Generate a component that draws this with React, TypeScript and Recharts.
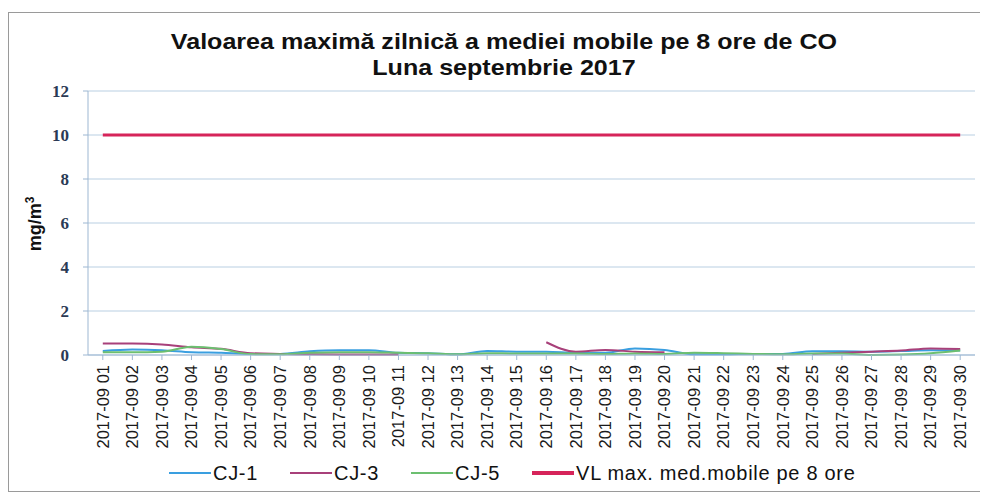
import React from 'react'
import { LineChart, Line, XAxis, YAxis, CartesianGrid } from 'recharts'

// zilele lunii septembrie 2017
const days = [
  '2017-09 01', '2017-09 02', '2017-09 03', '2017-09 04', '2017-09 05',
  '2017-09 06', '2017-09 07', '2017-09 08', '2017-09 09', '2017-09 10',
  '2017-09 11', '2017-09 12', '2017-09 13', '2017-09 14', '2017-09 15',
  '2017-09 16', '2017-09 17', '2017-09 18', '2017-09 19', '2017-09 20',
  '2017-09 21', '2017-09 22', '2017-09 23', '2017-09 24', '2017-09 25',
  '2017-09 26', '2017-09 27', '2017-09 28', '2017-09 29', '2017-09 30',
]

const cj1 = [0.18, 0.25, 0.22, 0.13, 0.1, 0.05, 0.05, 0.17, 0.22, 0.22, 0.1, 0.08, 0.03, 0.18, 0.15, 0.15, 0.1, 0.1, 0.3, 0.23, 0.03, 0.03, 0.05, 0.05, 0.17, 0.17, 0.15, 0.18, 0.22, 0.2]
const cj3 = [0.52, 0.52, 0.48, 0.35, 0.28, 0.08, 0.05, 0.03, 0.02, 0.02, 0.02, null, null, null, null, 0.58, 0.15, 0.23, 0.15, 0.12, null, null, null, null, 0.05, 0.1, 0.15, 0.2, 0.3, 0.27]
const cj5 = [0.12, 0.12, 0.15, 0.38, 0.27, 0.04, 0.03, 0.1, 0.12, 0.12, 0.1, 0.08, 0.03, 0.08, 0.07, 0.07, 0.07, 0.05, 0.07, 0.05, 0.1, 0.08, 0.05, 0.03, 0.07, 0.07, 0, 0.02, 0.08, 0.2]
const vl = [10, 10, 10, 10, 10, 10, 10, 10, 10, 10, 10, 10, 10, 10, 10, 10, 10, 10, 10, 10, 10, 10, 10, 10, 10, 10, 10, 10, 10, 10]

const yTicks = [0, 2, 4, 6, 8, 10, 12]

const series = [
  { key: 'cj1', name: 'CJ-1', color: '#3a9fe0', width: 2 },
  { key: 'cj3', name: 'CJ-3', color: '#a8407a', width: 2 },
  { key: 'cj5', name: 'CJ-5', color: '#6cbf70', width: 2 },
  { key: 'vl', name: 'VL max. med.mobile pe 8 ore', color: '#d6245a', width: 3 },
]

const data = days.map((d, i) => ({ day: d, cj1: cj1[i], cj3: cj3[i], cj5: cj5[i], vl: vl[i] }))

const XTick = (props: any) => {
  const { x, y, payload } = props
  return (
    <text
      x={x}
      y={y}
      transform={`rotate(-90, ${x}, ${y})`}
      textAnchor="end"
      dy="0.35em"
      fill="#1a1a1a"
      fontSize={16.5}
      fontFamily="Liberation Sans, Arial"
    >
      {payload.value}
    </text>
  )
}

const YLabel = () => (
  <text
    x={27}
    y={216}
    transform="rotate(-90, 27, 216)"
    textAnchor="middle"
    dy="0.35em"
    fill="#111"
    fontSize={18}
    fontWeight="bold"
    fontFamily="Liberation Sans, Arial"
  >
    mg/m<tspan dy={-7} fontSize={12}>3</tspan>
  </text>
)

export default function App() {
  return (
    <div style={{ position: 'relative', width: 980, height: 484, fontFamily: 'Liberation Sans, Arial' }}>
      <div style={{ position: 'absolute', left: 0, top: 4, width: 990, height: 478, border: '1px solid #9a9a9a' }} />
      <div
        style={{
          position: 'absolute', left: 0, top: 21, width: 992, textAlign: 'center',
          fontSize: 22, fontWeight: 'bold', lineHeight: '26px', color: '#111',
          transform: 'scaleX(1.14)', transformOrigin: '496px 0',
        }}
      >
        <div>Valoarea maximă zilnică a mediei mobile pe 8 ore de CO</div>
        <div>Luna septembrie 2017</div>
      </div>

      <LineChart width={980} height={484} data={data} margin={{ top: 83, right: 13, bottom: 0, left: 20 }}>
        <CartesianGrid vertical={false} stroke="#b9cfe2" />
        <XAxis
          dataKey="day"
          interval={0}
          height={137}
          padding={{ left: 14.8, right: 14.8 }}
          tick={<XTick />}
          tickSize={5}
          tickMargin={5}
          axisLine={{ stroke: '#9db7d2' }}
          tickLine={{ stroke: '#9db7d2' }}
        />
        <YAxis
          domain={[0, 12]}
          ticks={yTicks}
          width={60}
          tickSize={5}
          tickMargin={14}
          axisLine={{ stroke: '#9db7d2' }}
          tickLine={{ stroke: '#9db7d2' }}
          tick={{ fill: '#2b3a55', fontSize: 17, fontWeight: 'bold', fontFamily: 'Liberation Serif, serif' }}
          label={<YLabel />}
        />
        {series.map(s => (
          <Line
            key={s.key}
            dataKey={s.key}
            name={s.name}
            type="monotone"
            stroke={s.color}
            strokeWidth={s.width}
            dot={false}
            isAnimationActive={false}
          />
        ))}
      </LineChart>

      <div style={{ position: 'absolute', left: 161, top: 454, display: 'flex', alignItems: 'center', height: 22, gap: 32 }}>
        {series.map(s => (
          <div key={s.key} style={{ display: 'flex', alignItems: 'center' }}>
            <svg width={42} height={10}>
              <line x1={0} y1={5} x2={42} y2={5} stroke={s.color} strokeWidth={s.key === 'vl' ? 4 : 2} />
            </svg>
            <span style={{ fontSize: 20, letterSpacing: 0.7, color: '#111', marginLeft: 2 }}>{s.name}</span>
          </div>
        ))}
      </div>
    </div>
  )
}
